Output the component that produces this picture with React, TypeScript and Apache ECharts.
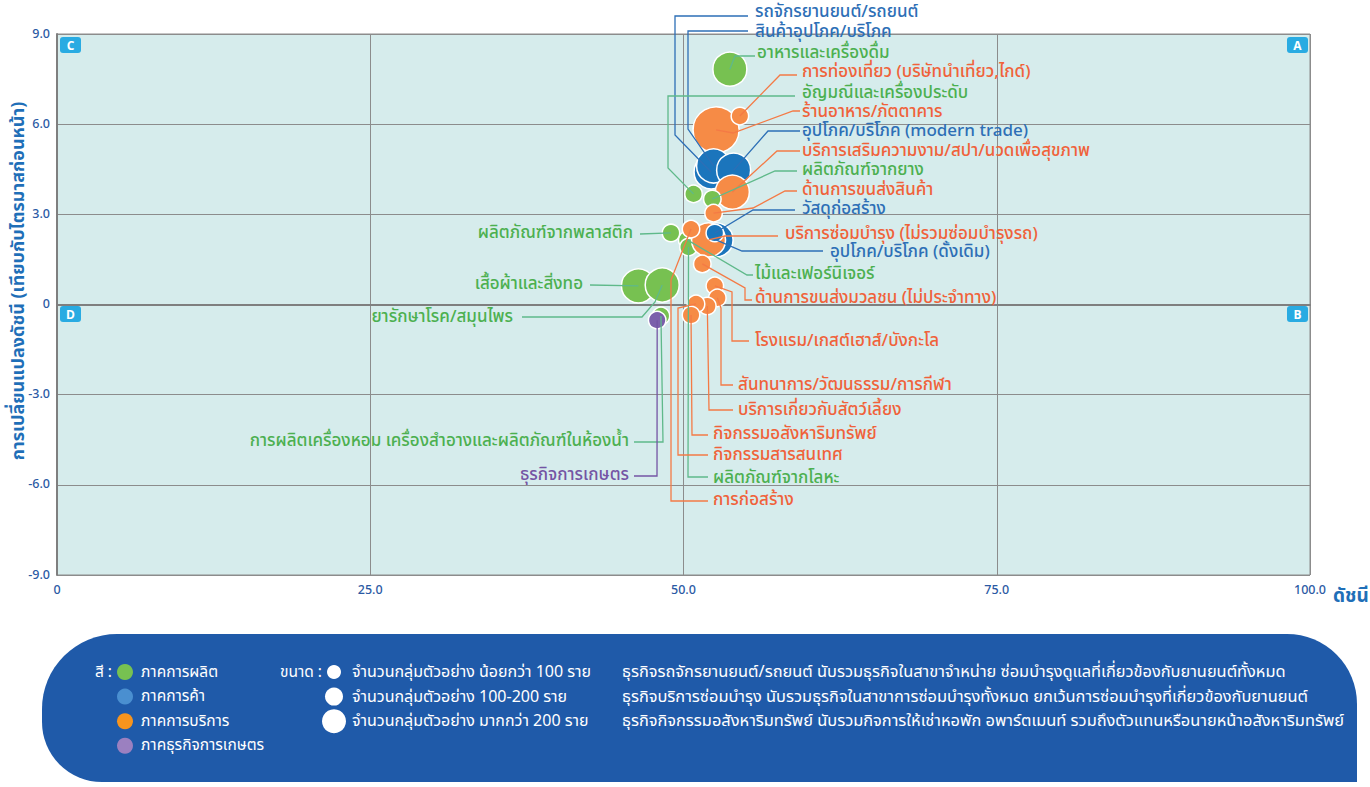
import React, { useEffect, useRef } from 'react';
import * as echarts from 'echarts';

// ---------- data ----------
const sectorNames = ['ภาคการผลิต', 'ภาคการค้า', 'ภาคการบริการ', 'ภาคธุรกิจการเกษตร'];
const sizeLegend = [
  'จำนวนกลุ่มตัวอย่าง น้อยกว่า 100 ราย',
  'จำนวนกลุ่มตัวอย่าง 100-200 ราย',
  'จำนวนกลุ่มตัวอย่าง มากกว่า 200 ราย',
];
const notes = [
  'ธุรกิจรถจักรยานยนต์/รถยนต์ นับรวมธุรกิจในสาขาจำหน่าย ซ่อมบำรุงดูแลที่เกี่ยวข้องกับยานยนต์ทั้งหมด',
  'ธุรกิจบริการซ่อมบำรุง นับรวมธุรกิจในสาขาการซ่อมบำรุงทั้งหมด ยกเว้นการซ่อมบำรุงที่เกี่ยวข้องกับยานยนต์',
  'ธุรกิจกิจกรรมอสังหาริมทรัพย์ นับรวมกิจการให้เช่าหอพัก อพาร์ตเมนท์ รวมถึงตัวแทนหรือนายหน้าอสังหาริมทรัพย์',
];
const xTicks = [0, 25, 50, 75, 100];
const yTicks = [-9, -6, -3, 0, 3, 6, 9];

const businessNames = [
  'ร้านอาหาร/ภัตตาคาร',
  'การท่องเที่ยว (บริษัทนำเที่ยว,ไกด์)',
  'รถจักรยานยนต์/รถยนต์',
  'สินค้าอุปโภค/บริโภค',
  'อุปโภค/บริโภค (modern trade)',
  'บริการเสริมความงาม/สปา/นวดเพื่อสุขภาพ',
  'อาหารและเครื่องดื่ม',
  'อัญมณีและเครื่องประดับ',
  'ผลิตภัณฑ์จากยาง',
  'ด้านการขนส่งสินค้า',
  'ไม้และเฟอร์นิเจอร์',
  'ผลิตภัณฑ์จากโลหะ',
  'อุปโภค/บริโภค (ดั้งเดิม)',
  'บริการซ่อมบำรุง (ไม่รวมซ่อมบำรุงรถ)',
  'การก่อสร้าง',
  'วัสดุก่อสร้าง',
  'ผลิตภัณฑ์จากพลาสติก',
  'ด้านการขนส่งมวลชน (ไม่ประจำทาง)',
  'เสื้อผ้าและสิ่งทอ',
  'ยารักษาโรค/สมุนไพร',
  'โรงแรม/เกสต์เฮาส์/บังกะโล',
  'สันทนาการ/วัฒนธรรม/การกีฬา',
  'บริการเกี่ยวกับสัตว์เลี้ยง',
  'กิจกรรมสารสนเทศ',
  'กิจกรรมอสังหาริมทรัพย์',
  'การผลิตเครื่องหอม เครื่องสำอางและผลิตภัณฑ์ในห้องน้ำ',
  'ธุรกิจการเกษตร',
];
// 0 ผลิต, 1 ค้า, 2 บริการ, 3 เกษตร
const businessSector = [2, 2, 1, 1, 1, 2, 0, 0, 0, 2, 0, 0, 1, 2, 2, 1, 0, 2, 0, 0, 2, 2, 2, 2, 2, 0, 3];
const indexValues = [52.6, 54.5, 52.2, 52.4, 54.0, 53.9, 53.7, 50.8, 52.3, 52.4, 50.3, 50.4, 52.6, 52.0, 50.6, 52.5, 49.0, 51.5, 46.4, 48.3, 52.5, 52.7, 51.9, 51.0, 50.6, 48.2, 47.9];
const changeValues = [5.81, 6.27, 4.41, 4.61, 4.47, 3.74, 7.83, 3.68, 3.51, 3.04, 2.15, 1.91, 2.15, 2.15, 2.51, 2.38, 2.38, 1.35, 0.62, 0.65, 0.62, 0.22, -0.05, 0.02, -0.35, -0.38, -0.52];
// 1: < 100, 2: 100-200, 3: > 200
const sampleClass = [3, 1, 2, 2, 2, 2, 2, 1, 1, 1, 1, 1, 2, 2, 1, 1, 1, 1, 2, 2, 1, 1, 1, 1, 1, 1, 1];

// ---------- styles / layout ----------
const FONT = "'Noto Sans Thai', 'Noto Sans', sans-serif";
const bubbleColors = ['#77c151', '#1b75bc', '#f68b46', '#7b5fab'];
const textColors = ['#4cb050', '#2d6fb6', '#f0623a', '#7454a4'];
const lineColors = ['#5fb98a', '#2d6fb6', '#f47a45', '#7454a4'];
const legendColors = ['#77c151', '#4a8fd0', '#f7941d', '#9b80c0'];
const sizePx = [0, 17.5, 34, 46];

type Lay = { tx: number; ty: number; align: 'left' | 'right'; path: number[][] };
const labelLayout: Lay[] = [
  { tx: 802, ty: 112, align: 'left', path: [[733, 133], [793, 111], [800, 111]] },
  { tx: 802, ty: 72, align: 'left', path: [[780, 75], [797, 75]] },
  { tx: 755, ty: 12, align: 'left', path: [[675, 135], [675, 16], [748, 16]] },
  { tx: 755, ty: 32, align: 'left', path: [[688, 129], [688, 31], [748, 31]] },
  { tx: 802, ty: 131, align: 'left', path: [[768, 131], [800, 131]] },
  { tx: 802, ty: 151, align: 'left', path: [[777, 151], [800, 151]] },
  { tx: 757, ty: 53, align: 'left', path: [[735, 56], [755, 56]] },
  { tx: 802, ty: 93, align: 'left', path: [[668, 168], [668, 96], [795, 96]] },
  { tx: 802, ty: 170, align: 'left', path: [[775, 171], [797, 171]] },
  { tx: 802, ty: 190, align: 'left', path: [[753, 208], [785, 191], [797, 191]] },
  { tx: 755, ty: 274, align: 'left', path: [[747, 275], [753, 275]] },
  { tx: 713, ty: 478, align: 'left', path: [[688, 477], [708, 477]] },
  { tx: 830, ty: 252, align: 'left', path: [[742, 251], [823, 251]] },
  { tx: 785, ty: 234, align: 'left', path: [[725, 236], [778, 236]] },
  { tx: 713, ty: 500, align: 'left', path: [[671, 280], [671, 501], [708, 501]] },
  { tx: 802, ty: 209, align: 'left', path: [[753, 210], [795, 210]] },
  { tx: 633, ty: 233, align: 'right', path: [[640, 234]] },
  { tx: 755, ty: 298, align: 'left', path: [[745, 288], [745, 300], [752, 300]] },
  { tx: 583, ty: 284, align: 'right', path: [[590, 285]] },
  { tx: 513, ty: 317, align: 'right', path: [[655, 302], [642, 317], [522, 317]] },
  { tx: 755, ty: 341, align: 'left', path: [[732, 292], [732, 341], [749, 341]] },
  { tx: 738, ty: 385, align: 'left', path: [[721, 308], [721, 385], [733, 385]] },
  { tx: 738, ty: 410, align: 'left', path: [[709, 410], [733, 410]] },
  { tx: 713, ty: 455, align: 'left', path: [[678, 308], [678, 455], [708, 455]] },
  { tx: 713, ty: 434, align: 'left', path: [[692, 435], [708, 435]] },
  { tx: 629, ty: 441, align: 'right', path: [[663, 442], [634, 442]] },
  { tx: 629, ty: 475, align: 'right', path: [[657, 476], [634, 476]] },
];

const fmt = (v: number) => (v === 0 ? '0' : v.toFixed(1));

export default function App() {
  const ref = useRef<HTMLDivElement>(null);
  useEffect(() => {
    if (!ref.current) return;
    const chart = echarts.init(ref.current, undefined, { renderer: 'svg' });

    const points = businessNames.map((n, i) => ({
      name: n,
      value: [indexValues[i], changeValues[i], i],
      symbolSize: sizePx[sampleClass[i]],
      itemStyle: { color: bubbleColors[businessSector[i]], borderColor: '#ffffff', borderWidth: 1.5, opacity: 1 },
    }));

    const quad = (x: number, y: number, t: string) => ({
      type: 'group',
      x,
      y,
      children: [
        { type: 'rect', shape: { x: 0, y: 0, width: 21, height: 16, r: 3 }, style: { fill: '#29abe2' } },
        {
          type: 'text',
          style: { text: t, x: 10.5, y: 8.5, align: 'center', verticalAlign: 'middle', fill: '#fff', font: `bold 12px ${FONT}` },
        },
      ],
    });

    const lf = `15.5px ${FONT}`;
    const legend: any[] = [
      {
        type: 'rect',
        shape: { x: 42, y: 634, width: 1315, height: 148, r: [75, 70, 0, 60] },
        style: { fill: '#1f5aa9' },
      },
      { type: 'text', style: { text: 'สี :', x: 112, y: 672, align: 'right', verticalAlign: 'middle', fill: '#fff', font: lf } },
      { type: 'text', style: { text: 'ขนาด :', x: 322, y: 672, align: 'right', verticalAlign: 'middle', fill: '#fff', font: lf } },
    ];
    sectorNames.forEach((s, i) => {
      const y = 672 + i * 24.6;
      legend.push({ type: 'circle', shape: { cx: 125, cy: y, r: 8 }, style: { fill: legendColors[i] } });
      legend.push({ type: 'text', style: { text: s, x: 141, y, verticalAlign: 'middle', fill: '#fff', font: lf } });
    });
    sizeLegend.forEach((s, i) => {
      const y = 672 + i * 24.6;
      const r = [7, 9, 12][i];
      legend.push({ type: 'circle', shape: { cx: 334, cy: y, r }, style: { fill: '#fff' } });
      legend.push({ type: 'text', style: { text: s, x: 352, y, verticalAlign: 'middle', fill: '#fff', font: `16px ${FONT}` } });
    });
    notes.forEach((s, i) => {
      const y = 672 + i * 24.6;
      legend.push({ type: 'text', style: { text: s, x: 622, y, verticalAlign: 'middle', fill: '#fff', font: `16.4px ${FONT}` } });
    });

    chart.setOption({
      animation: false,
      backgroundColor: '#ffffff',
      grid: {
        left: 57,
        top: 34,
        width: 1253,
        height: 541,
        show: true,
        backgroundColor: '#d6ecec',
        borderColor: '#8c8c8c',
        borderWidth: 1,
      },
      xAxis: {
        type: 'value',
        min: xTicks[0],
        max: xTicks[xTicks.length - 1],
        interval: 25,
        axisLine: { show: true, lineStyle: { color: '#7f7f7f', width: 2 } },
        axisTick: { show: false },
        splitLine: { show: true, lineStyle: { color: '#8c8c8c', width: 1 } },
        axisLabel: { color: '#2b5aa4', fontSize: 12.5, fontWeight: 500, fontFamily: FONT, margin: 9, formatter: fmt },
      },
      yAxis: {
        type: 'value',
        min: yTicks[0],
        max: yTicks[yTicks.length - 1],
        interval: 3,
        axisLine: { show: true, lineStyle: { color: '#7f7f7f', width: 2 } },
        axisTick: { show: false },
        splitLine: { show: true, lineStyle: { color: '#8c8c8c', width: 1 } },
        axisLabel: { color: '#2b5aa4', fontSize: 12.5, fontWeight: 500, fontFamily: FONT, margin: 7, formatter: fmt },
      },
      graphic: [
        quad(60, 37, 'C'),
        quad(1287, 37, 'A'),
        quad(60, 306, 'D'),
        quad(1287, 306, 'B'),
        {
          type: 'text',
          x: 18,
          y: 281,
          rotation: Math.PI / 2,
          style: {
            text: 'การเปลี่ยนแปลงดัชนี (เทียบกับไตรมาสก่อนหน้า)',
            align: 'center',
            verticalAlign: 'middle',
            fill: '#1f6fb8',
            font: `bold 18px ${FONT}`,
          },
        },
        {
          type: 'text',
          style: { text: 'ดัชนี', x: 1333, y: 596, verticalAlign: 'middle', fill: '#1f6fb8', font: `bold 19px ${FONT}` },
        },
        ...legend,
      ],
      series: [
        {
          type: 'scatter',
          data: points,
          z: 2,
        },
        {
          type: 'custom',
          z: 3,
          clip: false,
          data: businessNames.map((n, i) => [indexValues[i], changeValues[i], i]),
          encode: { x: 0, y: 1 },
          renderItem: (params: any, api: any) => {
            const i = api.value(2);
            const lay = labelLayout[i];
            const c = api.coord([api.value(0), api.value(1)]);
            const sec = businessSector[i];
            return {
              type: 'group',
              children: [
                {
                  type: 'polyline',
                  shape: { points: [c, ...lay.path] },
                  style: { stroke: lineColors[sec], lineWidth: 1.3, fill: 'none' },
                },
                {
                  type: 'text',
                  style: {
                    text: businessNames[i],
                    x: lay.tx,
                    y: lay.ty,
                    align: lay.align,
                    verticalAlign: 'middle',
                    fill: textColors[sec],
                    font: `500 17px ${FONT}`,
                  },
                },
              ],
            };
          },
        },
      ],
    });
    return () => chart.dispose();
  }, []);
  return <div ref={ref} style={{ position: 'fixed', left: 0, top: 0, width: 1370, height: 787 }} />;
}
